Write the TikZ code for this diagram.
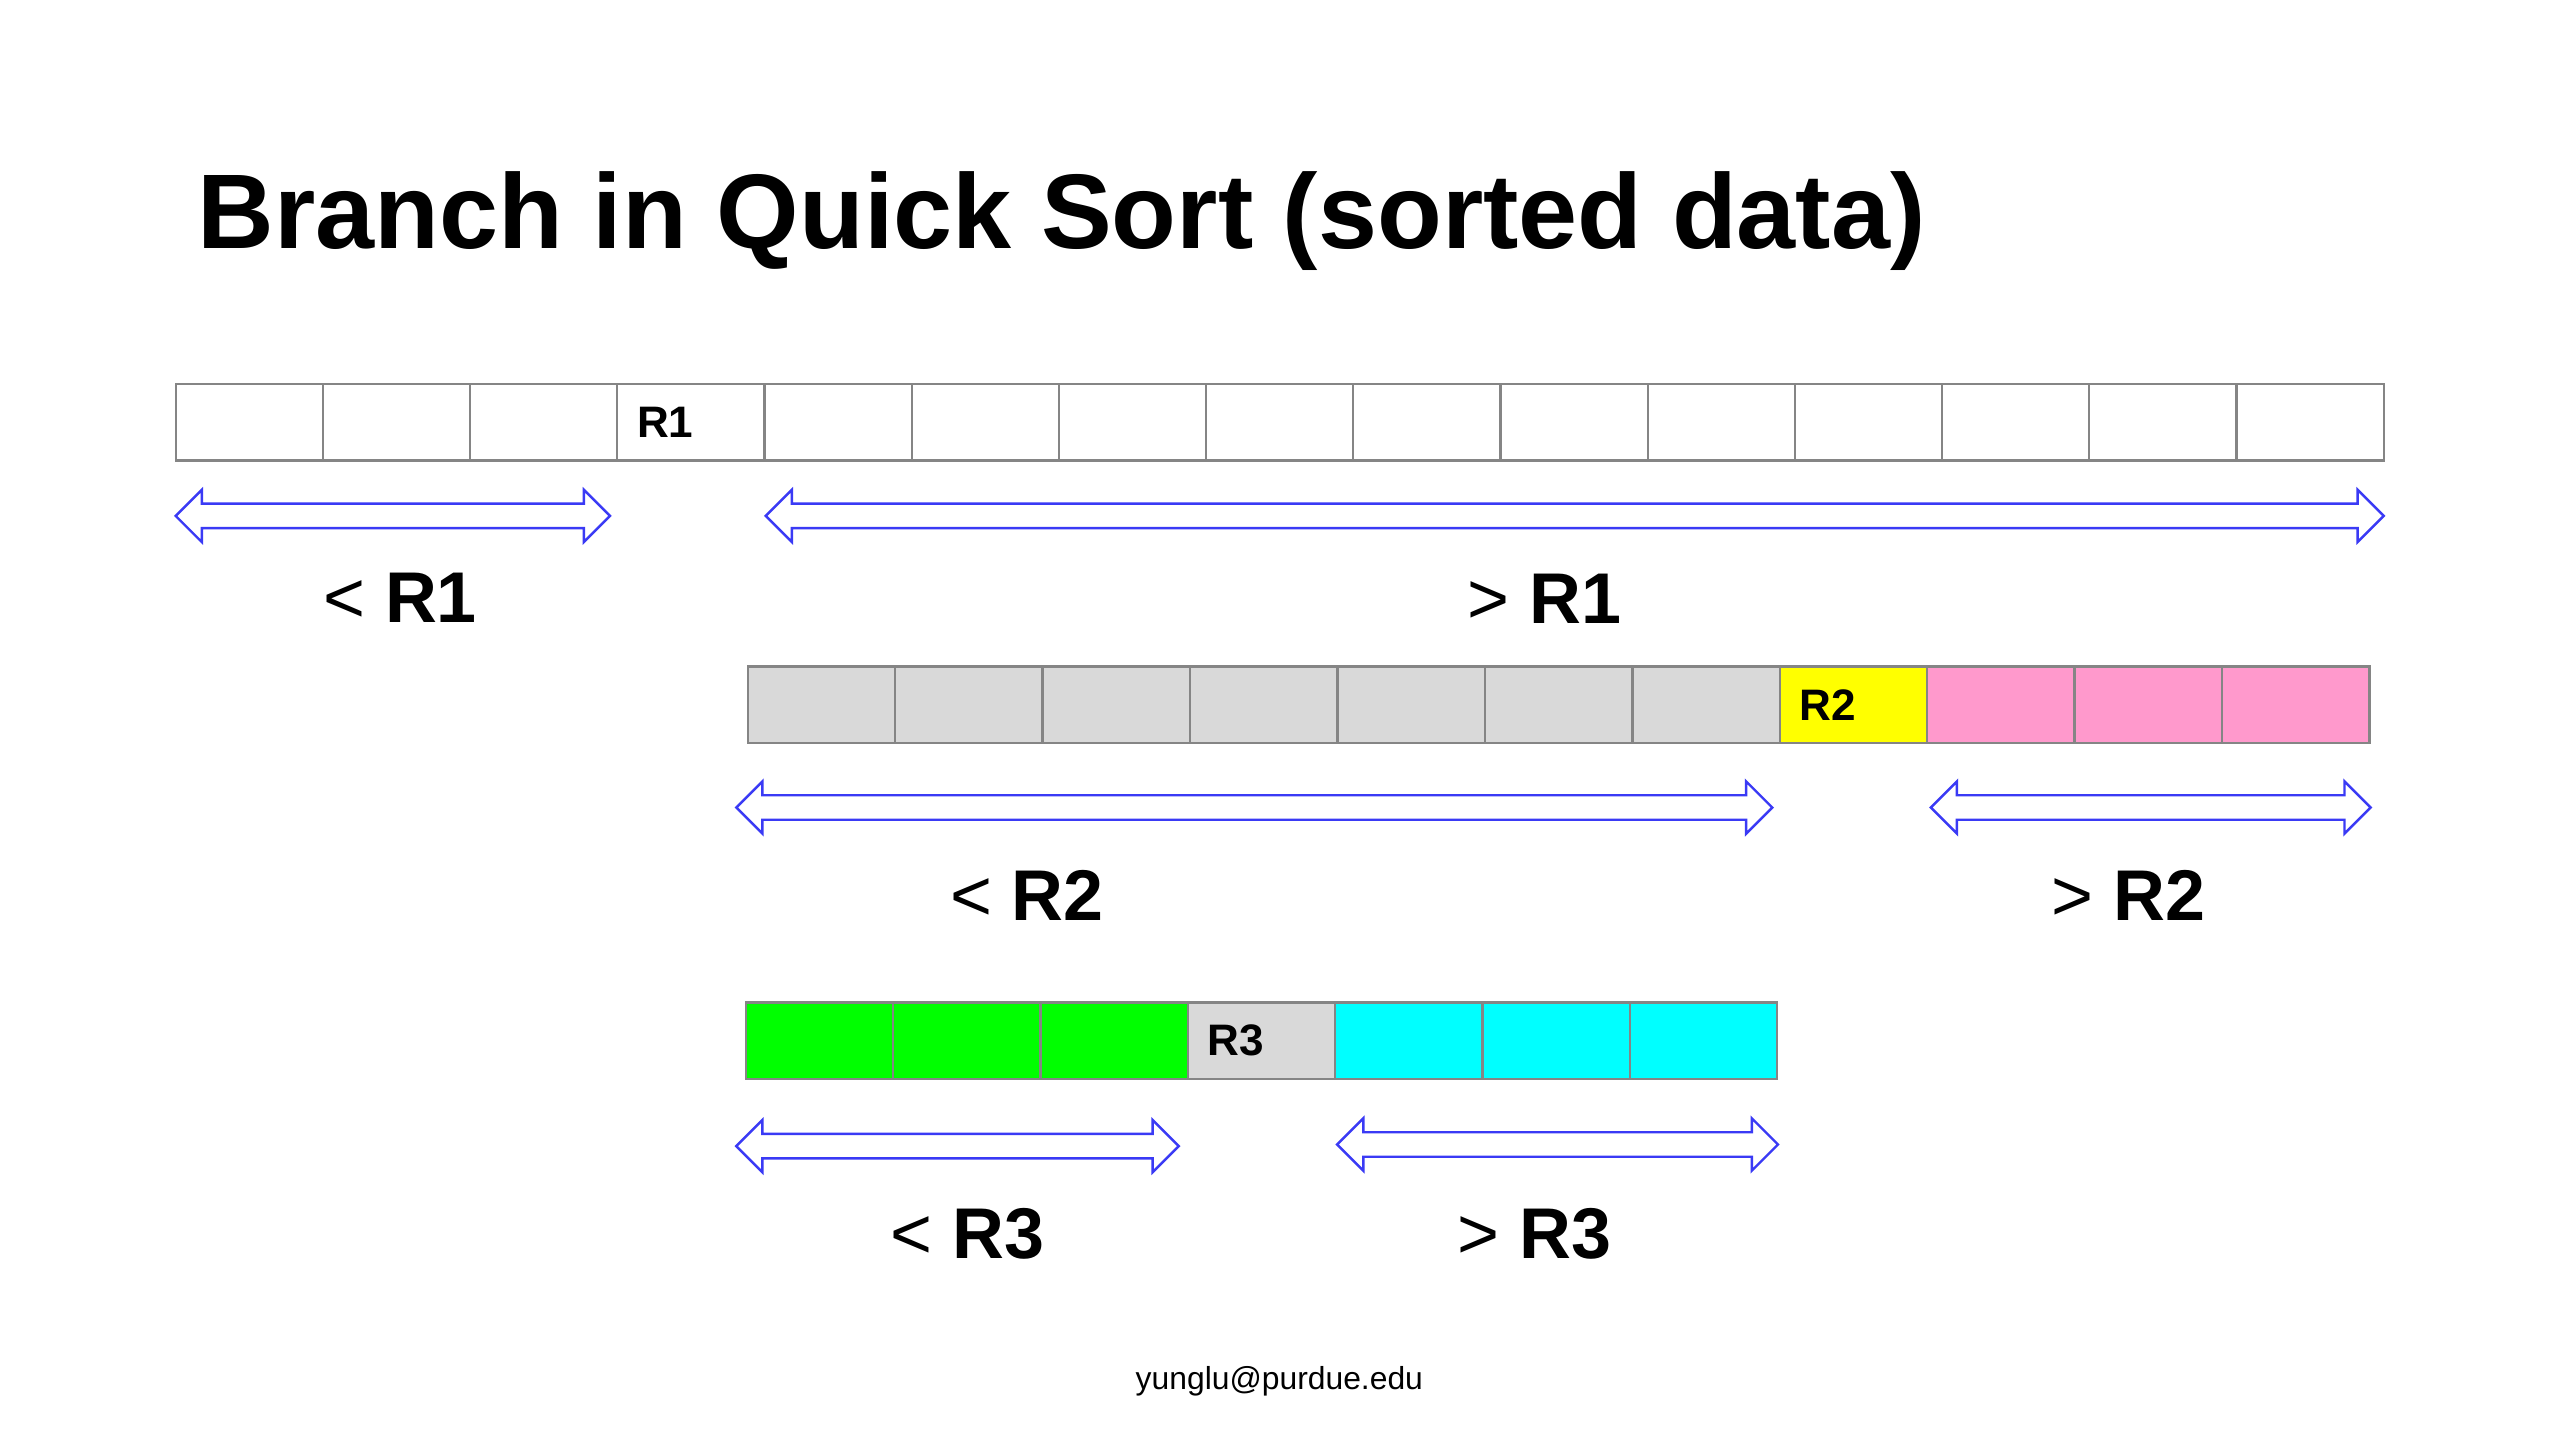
\documentclass[tikz,border=0pt]{standalone}
\usepackage{fontspec}
\setmainfont{Liberation Sans}
\usetikzlibrary{calc}
\definecolor{cellgray}{HTML}{D9D9D9}
\definecolor{cellborder}{HTML}{858585}
\definecolor{cellpink}{HTML}{FF99CC}
\definecolor{cellyellow}{HTML}{FFFF00}
\definecolor{cellgreen}{HTML}{00FF00}
\definecolor{cellcyan}{HTML}{00FFFF}
\definecolor{arrblue}{HTML}{3A3AF5}
\tikzset{
  cell/.style={draw=cellborder, line width=1.4pt, minimum width=90.2pt, minimum height=47pt, inner sep=0pt, outer sep=0pt},
  celltxt/.style={inner sep=0pt, font=\fontsize{27}{30}\selectfont\bfseries},
  rangelbl/.style={inner sep=0pt, anchor=base, font=\fontsize{44}{50}\selectfont},
  rangearr/.style={draw=arrblue, line width=1.5pt, fill=white, line join=miter},
  titletxt/.style={inner sep=0pt, anchor=base west, font=\fontsize{65}{78}\selectfont\bfseries},
  foottxt/.style={inner sep=0pt, anchor=base, font=\fontsize{19.5}{23}\selectfont}
}
\newcommand{\rangearrow}[2]{%
  \draw[rangearr] (#1) -- ++(16,-16) -- ++(0,8.5) -- ($(#2)+(-16,-7.5)$) -- ++(0,-8.5) -- (#2)
    -- ++(-16,16) -- ++(0,-8.5) -- ($(#1)+(16,7.5)$) -- ++(0,8.5) -- cycle;}
\begin{document}
\begin{tikzpicture}[x=1pt, y=-1pt]
\useasboundingbox[fill=white] (0,0) rectangle (1568,882);

% title
\node[titletxt] (title) at (121,152) {Branch in Quick Sort (sorted data)};

% row 1
\foreach \i in {0,...,14} {
  \node[cell, fill=white] (ra\i) at ({107.6+90.16*\i+45.08}, 258.5) {};
}
\node[celltxt, anchor=west] (ta) at ($(ra3.west)+(12,0)$) {R1};

% row 1 ranges
\coordinate (a1L) at (107.6,316);
\coordinate (a1R) at (373.6,316);
\coordinate (a2L) at (469,316);
\coordinate (a2R) at (1460,316);
\rangearrow{a1L}{a1R}
\rangearrow{a2L}{a2R}
\node[rangelbl] (la1) at (245,381) {\mdseries<\ \bfseries R1};
\node[rangelbl] (la2) at (946,382) {\mdseries>\ \bfseries R1};

% row 2
\foreach \i/\c in {0/cellgray,1/cellgray,2/cellgray,3/cellgray,4/cellgray,5/cellgray,6/cellgray,7/cellyellow,8/cellpink,9/cellpink,10/cellpink} {
  \node[cell, fill=\c] (rb\i) at ({458+90.3*\i+45.15}, 431.8) {};
}
\node[celltxt, anchor=west] (tb) at ($(rb7.west)+(12,0)$) {R2};

\coordinate (b1L) at (451,494.6);
\coordinate (b1R) at (1085.5,494.6);
\coordinate (b2L) at (1182.6,494.6);
\coordinate (b2R) at (1452,494.6);
\rangearrow{b1L}{b1R}
\rangearrow{b2L}{b2R}
\node[rangelbl] (lb1) at (629,563.5) {\mdseries<\ \bfseries R2};
\node[rangelbl] (lb2) at (1303.5,563.5) {\mdseries>\ \bfseries R2};

% row 3
\foreach \i/\c in {0/cellgreen,1/cellgreen,2/cellgreen,3/cellgray,4/cellcyan,5/cellcyan,6/cellcyan} {
  \node[cell, fill=\c] (rc\i) at ({456.7+90.25*\i+45.125}, 637.5) {};
}
\node[celltxt, anchor=west] (tc) at ($(rc3.west)+(12,0)$) {R3};

\coordinate (c1L) at (451,702);
\coordinate (c1R) at (722,702);
\coordinate (c2L) at (819,701);
\coordinate (c2R) at (1089,701);
\rangearrow{c1L}{c1R}
\rangearrow{c2L}{c2R}
\node[rangelbl] (lc1) at (592.5,770.6) {\mdseries<\ \bfseries R3};
\node[rangelbl] (lc2) at (940,770.6) {\mdseries>\ \bfseries R3};

% footer
\node[foottxt] (foot) at (783.6,851) {yunglu@purdue.edu};
\end{tikzpicture}
\end{document}
